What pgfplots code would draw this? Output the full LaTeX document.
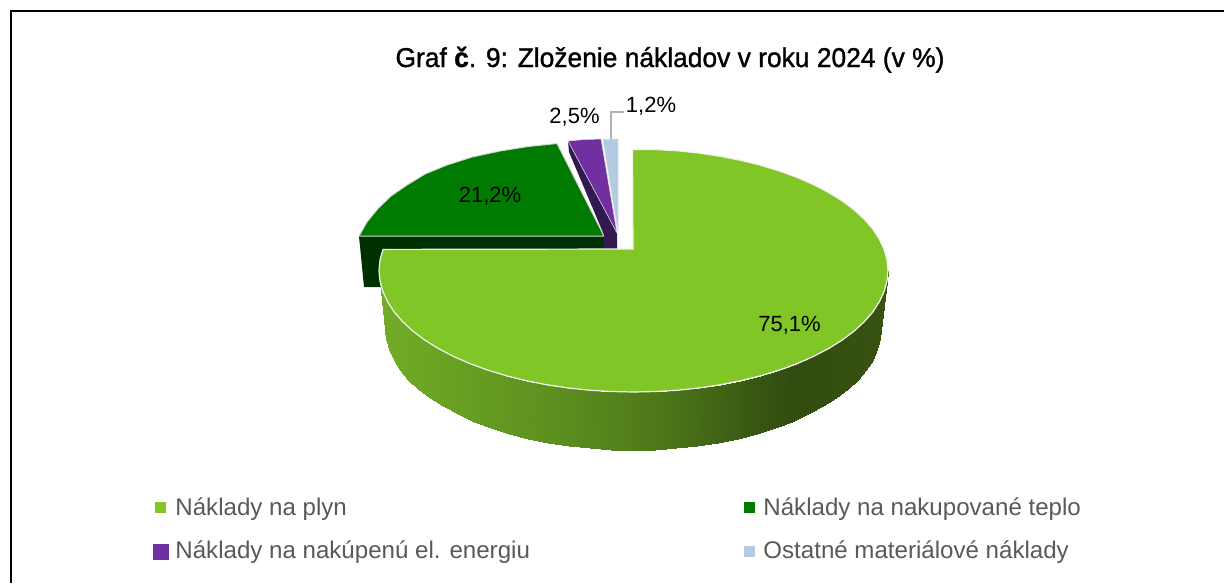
\documentclass[border=0pt]{standalone}
\usepackage{fontspec}
\setmainfont{Liberation Sans}
\newfontfamily\ttlfont[FakeBold=1.2]{Liberation Sans}
\usepackage{graphicx}
\usepackage{pgfplots}
\pgfplotsset{compat=1.18}
\definecolor{gplyn}{RGB}{127,198,38}
\definecolor{gteplo}{RGB}{0,122,0}
\definecolor{gteplod}{RGB}{0,48,0}
\definecolor{gel}{RGB}{112,48,160}
\definecolor{geld}{RGB}{50,25,80}
\definecolor{gmat}{RGB}{180,203,228}
\definecolor{legtext}{RGB}{89,89,89}
\newcommand{\legfont}{\fontsize{12.05}{14}\selectfont\color{legtext}}
\newcommand{\lblfont}{\fontsize{11}{14}\selectfont}
\begin{document}
\begin{tikzpicture}
\begin{axis}[
  scale only axis, width=612pt, height=291.5pt,
  xmin=0, xmax=1224, ymin=0, ymax=583, y dir=reverse,
  hide axis, clip=true,
  colormap={sidegrad}{rgb255(380)=(114,172,38) rgb255(560)=(92,142,30) rgb255(650)=(78,122,25) rgb255(700)=(68,106,22) rgb255(745)=(58,90,19) rgb255(790)=(50,76,16) rgb255(888)=(56,82,18)},
  point meta min=380, point meta max=888,
]
% plate so the page keeps its size
\addplot[draw=none, fill=white] coordinates {(0,0) (1224,0) (1224,583) (0,583)} \closedcycle;
% frame, open on the right and at the bottom
\addplot[black, line width=1.3pt] coordinates {(11,583) (11,11) (1224,11)};
% exploded slices
\addplot[draw=none, fill=gteplod] coordinates {(359,236) (604,236) (604,249) (400,249) (400,287) (364,287)} -- cycle;
\addplot[draw=white!85!black, line width=0.5pt, fill=gteplo] coordinates {(604,236) (359,236) (367,222) (378,208.5) (391,196) (407,185) (425,174) (447,165) (472,157) (500,151) (528,146.5) (557,143.5)} -- cycle;
\addplot[draw=none, fill=geld] coordinates {(568,141) (569,152) (604,235) (604,249) (617,249) (617,233)} -- cycle;
\addplot[draw=white!85!black, line width=0.3pt, fill=gel] coordinates {(568,141) (585,139.5) (601,139) (617,233)} -- cycle;
\addplot[draw=white!85!black, line width=0.3pt, fill=gmat] coordinates {(603,139.5) (618,139) (618,232)} -- cycle;
% leader of the smallest slice
\addplot[gray!60, line width=0.6pt] coordinates {(611,139) (611,112) (624,112)};
% side of the main slice
\addplot[surf, shader=interp, mesh/rows=37, point meta=x] coordinates {
(888.0,270.5) (881.0,328.0)

(887.0,281.1) (880.1,338.6)

(884.1,291.6) (877.2,349.2)

(879.3,301.9) (872.5,359.6)

(872.7,312.1) (866.0,369.7)

(864.2,321.8) (857.8,379.6)

(853.9,331.3) (847.8,389.0)

(842.0,340.2) (836.2,398.0)

(828.4,348.6) (823.0,406.4)

(813.5,356.4) (808.4,414.3)

(797.1,363.6) (792.4,421.5)

(779.5,370.0) (775.3,427.9)

(760.8,375.7) (757.0,433.7)

(741.1,380.6) (737.8,438.6)

(720.5,384.7) (717.8,442.6)

(699.4,387.9) (697.2,445.8)

(677.7,390.2) (676.1,448.1)

(655.7,391.5) (654.6,449.5)

(633.5,392.0) (633.0,450.0)

(611.3,391.5) (611.4,449.5)

(589.3,390.2) (589.9,448.1)

(567.6,387.9) (568.8,445.8)

(546.5,384.7) (548.2,442.6)

(525.9,380.6) (528.2,438.6)

(506.2,375.7) (509.0,433.7)

(487.5,370.0) (490.7,427.9)

(469.9,363.6) (473.6,421.5)

(453.5,356.4) (457.6,414.3)

(438.6,348.6) (443.0,406.4)

(425.0,340.2) (429.8,398.0)

(413.1,331.3) (418.2,389.0)

(402.8,321.8) (408.2,379.6)

(394.3,312.1) (400.0,369.7)

(387.7,301.9) (393.5,359.6)

(382.9,291.6) (388.8,349.2)

(380.0,281.1) (385.9,338.6)

(379.0,270.5) (385.0,328.0)
};
% top of the main slice
\addplot[draw=white!95!black, line width=0.6pt, fill=gplyn] coordinates {
(633,249) (632.5,149.5) (655.7,149.5) (677.7,150.8) (699.4,153.1) (720.5,156.3) (741.1,160.4) (760.8,165.3) (779.5,171.0) (797.1,177.4) (813.5,184.6) (828.4,192.4) (842.0,200.8) (853.9,209.7) (864.2,219.2) (872.7,228.9) (879.3,239.1) (884.1,249.4) (887.0,259.9)
(888.0,270.5) (887.0,281.1) (884.1,291.6) (879.3,301.9) (872.7,312.1) (864.2,321.8) (853.9,331.3) (842.0,340.2) (828.4,348.6) (813.5,356.4) (797.1,363.6) (779.5,370.0) (760.8,375.7) (741.1,380.6) (720.5,384.7) (699.4,387.9) (677.7,390.2) (655.7,391.5) (633.5,392.0) (611.3,391.5) (589.3,390.2) (567.6,387.9) (546.5,384.7) (525.9,380.6) (506.2,375.7) (487.5,370.0) (469.9,363.6) (453.5,356.4) (438.6,348.6) (425.0,340.2) (413.1,331.3) (402.8,321.8) (394.3,312.1) (387.7,301.9) (382.9,291.6) (380.0,281.1) (379.0,270.5) (380.0,259.9) (383.0,249.4)
} -- cycle;
% legend keys
\addplot[only marks, mark=square*, mark size=2.5pt, color=gplyn] coordinates {(160.5,507)};
\addplot[only marks, mark=square*, mark size=2.5pt, color=gteplo] coordinates {(749,507)};
\addplot[only marks, mark=square*, mark size=3.75pt, color=gel] coordinates {(160.5,551.5)};
\addplot[only marks, mark=square*, mark size=2.5pt, color=gmat] coordinates {(749,551)};
% texts
\node[font=\fontsize{13.6}{16}\selectfont\ttlfont, anchor=base, inner sep=0pt] at (axis cs:670,67) {\scalebox{0.97}[1]{Graf {\bfseries č}. 9: Zloženie nákladov v roku 2024 (v \%)}};
\node[font=\lblfont] at (axis cs:490,196) {21,2\%};
\node[font=\lblfont] at (axis cs:789.5,325) {75,1\%};
\node[font=\lblfont] at (axis cs:574.5,117) {2,5\%};
\node[font=\lblfont] at (axis cs:651,106) {1,2\%};
\node[font=\legfont, anchor=base west, inner sep=0pt] at (axis cs:175,515) {Náklady na plyn};
\node[font=\legfont, anchor=base west, inner sep=0pt] at (axis cs:763,515) {Náklady na nakupované teplo};
\node[font=\legfont, anchor=base west, inner sep=0pt] at (axis cs:175,558) {Náklady na nakúpenú el. energiu};
\node[font=\legfont, anchor=base west, inner sep=0pt] at (axis cs:763,558) {Ostatné materiálové náklady};
\end{axis}
\end{tikzpicture}
\end{document}
